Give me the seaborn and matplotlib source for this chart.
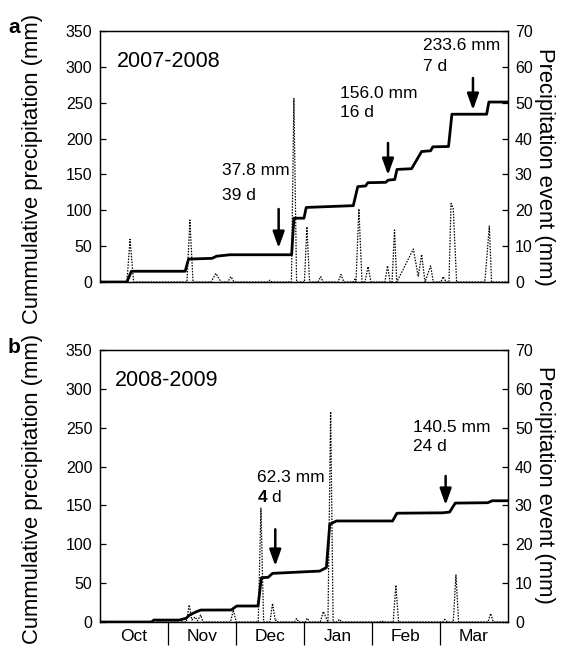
import matplotlib
matplotlib.use("Agg")
import matplotlib.pyplot as plt
import pandas as pd
import seaborn as sns

# ---------------- data ----------------
months = ["Oct", "Nov", "Dec", "Jan", "Feb", "Mar"]
season_a = "2007-2008"
season_b = "2008-2009"
x_max = 182  # days from 1 Oct to 31 Mar

# cumulative precipitation (mm), panel a
cum_a_day = [0, 12, 14, 38, 39.5, 50, 52, 58, 85.5, 86.5, 91, 92, 113, 115, 118.5,
             119.5, 127.5, 128.5, 131.5, 132.5, 139, 140.5, 143.5, 147.5, 148.5,
             155.5, 157, 172.5, 173.5, 182]
cum_a_mm = [0, 0, 15, 15, 32, 33, 36, 38, 38, 89, 89, 104, 106.5, 133, 134,
            138.5, 139, 142, 143, 157, 158, 166, 182, 183, 188.5,
            189, 234, 234, 251, 251]

# precipitation events (mm), panel a
evt_a_day = [0, 12, 13.4, 15, 38.8, 40.1, 41.5, 49.5, 51.7, 54, 57, 58.4, 59.8,
             75, 75.8, 76.7, 85.4, 86.5, 87.7, 91.2, 92.3, 93.5, 97.2, 98.5, 99.5,
             106.2, 107.5, 108.8, 112.9, 113.8, 114.2, 115.5, 116.9, 118.2, 119.6,
             120.9, 127.1, 128.3, 129.4, 130.3, 131.4, 132.4, 139.8, 142, 143.5,
             145, 147.5, 148.7, 152.1, 153.1, 154.4, 155.7, 156.6, 157.6, 159.1,
             171.7, 173.7, 174.7, 182]
evt_a_mm = [0, 0, 11.9, 0, 0, 17.3, 0, 0, 2.4, 0, 0, 1.5, 0,
            0, 0.5, 0, 0, 51.2, 0, 0, 15.4, 0, 0, 1.5, 0,
            0, 2.1, 0, 0, 0.8, 0, 20.4, 0, 0, 4.3,
            0, 0, 4.5, 0, 0, 14.5, 0, 9.2, 1.5, 7.7,
            0, 4.5, 0, 0, 1.5, 0, 0, 21.9, 20.5, 0,
            0, 15.6, 0, 0]

# cumulative precipitation (mm), panel b
cum_b_day = [0, 23, 24, 35.5, 38.5, 40, 43, 45, 58.5, 61, 70.5, 72, 75, 77, 94, 98,
             101, 102.5, 105.5, 130.5, 132.5, 153, 156, 158.5, 173, 175, 182]
cum_b_mm = [0, 0, 2.5, 2.5, 5, 9, 13.3, 15.4, 15.5, 20.6, 20.6, 57, 57.5, 62.6, 65,
            65.5, 70, 125.7, 130, 130, 140, 140.5, 141.5, 153, 153.5, 156, 156]

# precipitation events (mm), panel b
evt_b_day = [0, 23.5, 24.5, 25.5, 34.7, 35.7, 36.7, 38.5, 39.8, 41, 42.4, 43.5, 44.9,
             46, 58.2, 59.5, 60.8, 70.6, 71.8, 73, 75.8, 77, 78.2, 78.8, 79.5, 86.7,
             87.7, 88.7, 91.5, 92.5, 93.5, 98.3, 99.6, 101.7, 102.9, 104, 105.8,
             106.8, 107.8, 124.7, 125.7, 126.7, 130.8, 132, 133.2, 152.9, 153.9,
             154.9, 157.6, 158.8, 160, 173.1, 174.3, 175.5, 182]
evt_b_mm = [0, 0, 0.9, 0, 0, 0.9, 0, 0, 4.4, 0.5, 1.3, 0.3, 1.8,
            0, 0, 3.1, 0, 0, 29.3, 0, 0, 4.8, 0.3, 0.5, 0, 0,
            0.9, 0, 0, 1.0, 0, 0, 2.7, 0, 54.1, 0, 0,
            0.7, 0, 0, 0.3, 0, 0, 9.5, 0, 0, 0.7,
            0, 0, 12.1, 0, 0, 2.2, 0, 0]

notes_a = [("37.8 mm", "39 d"), ("156.0 mm", "16 d"), ("233.6 mm", "7 d")]
notes_b = [("62.3 mm", r"$\mathbf{4}$ d"), ("140.5 mm", "24 d")]

left_ticks = [0, 50, 100, 150, 200, 250, 300, 350]
right_ticks = [0, 10, 20, 30, 40, 50, 60, 70]

# ---------------- style ----------------
sns.set_theme(style="ticks")
plt.rcParams["font.family"] = ["Liberation Sans", "DejaVu Sans"]
plt.rcParams["mathtext.fontset"] = "custom"
plt.rcParams["mathtext.rm"] = "Liberation Sans"
plt.rcParams["mathtext.bf"] = "Liberation Sans:bold"
plt.rcParams["axes.linewidth"] = 0.9
for k in ("text.color", "axes.labelcolor", "xtick.color", "ytick.color",
          "axes.edgecolor"):
    plt.rcParams[k] = "black"

TICK_FS = 11.5
LAB_FS = 15.8
NOTE_FS = 12.5
SEASON_FS = 15.5

fig = plt.figure(figsize=(5.65, 6.48), dpi=100)
ax_a = fig.add_axes([0.177, 0.5648, 0.722, 0.3873])
ax_b = fig.add_axes([0.177, 0.0401, 0.722, 0.4198])


def draw_panel(ax, cd, cv, ed, ev):
    ax2 = ax.twinx()
    dfe = pd.DataFrame({"day": ed, "mm": ev})
    dfc = pd.DataFrame({"day": cd, "mm": cv})
    sns.lineplot(data=dfe, x="day", y="mm", ax=ax2, color="black", lw=0.9,
                 linestyle=(0, (1.2, 1.1)), estimator=None, sort=False)
    sns.lineplot(data=dfc, x="day", y="mm", ax=ax, color="black", lw=2.0,
                 estimator=None, sort=False)
    ax.set_xlim(0, x_max)
    ax.set_ylim(0, 350)
    ax2.set_ylim(0, 70)
    ax.set_yticks(left_ticks)
    ax2.set_yticks(right_ticks)
    ax.tick_params(axis="y", direction="in", length=4.5, width=0.9,
                   labelsize=TICK_FS, pad=5.5, colors="black")
    ax2.tick_params(axis="y", direction="in", length=4.5, width=0.9,
                    labelsize=TICK_FS, pad=5, colors="black")
    for a in (ax, ax2):
        for s in a.spines.values():
            s.set_visible(True)
            s.set_linewidth(0.9)
            s.set_color("black")
    ax.set_ylabel("Cummulative precipitation (mm)", fontsize=LAB_FS)
    ax2.set_ylabel("Precipitation event (mm)", fontsize=LAB_FS, rotation=270)
    ax.set_xlabel("")
    return ax2


ax2_a = draw_panel(ax_a, cum_a_day, cum_a_mm, evt_a_day, evt_a_mm)
ax2_b = draw_panel(ax_b, cum_b_day, cum_b_mm, evt_b_day, evt_b_mm)

ax_a.yaxis.set_label_coords(-0.14, 0.45)
ax2_a.yaxis.set_label_coords(1.115, 0.46)
ax_b.yaxis.set_label_coords(-0.14, 0.49)
ax2_b.yaxis.set_label_coords(1.115, 0.505)

# x axis: panel a none, panel b months with separators
ax_a.set_xticks([])
ax_a.tick_params(axis="x", length=0)
sep = [k * x_max / 6 for k in range(1, 6)]
centers = [(k + 0.5) * x_max / 6 for k in range(6)]
ax_b.set_xticks(sep)
ax_b.set_xticklabels([])
ax_b.tick_params(axis="x", which="major", direction="out", length=16.5, width=0.9,
                 colors="black")
ax_b.set_xticks(centers, minor=True)
ax_b.set_xticklabels(months, minor=True, fontsize=12.5)
ax_b.tick_params(axis="x", which="minor", length=0, pad=5)

# season labels
ax_a.text(0.042, 0.878, season_a, transform=ax_a.transAxes, fontsize=SEASON_FS,
          ha="left", va="center")
ax_b.text(0.037, 0.886, season_b, transform=ax_b.transAxes, fontsize=SEASON_FS,
          ha="left", va="center")

# annotation text (axes fraction positions: left x, baseline line 1, baseline line 2)
pos_a = [(0.299, 0.426, 0.327), (0.588, 0.733, 0.657), (0.792, 0.924, 0.841)]
for (l1, l2), (fx, fy1, fy2) in zip(notes_a, pos_a):
    ax_a.text(fx, fy1, l1, transform=ax_a.transAxes, fontsize=NOTE_FS,
              ha="left", va="baseline")
    ax_a.text(fx, fy2, l2, transform=ax_a.transAxes, fontsize=NOTE_FS,
              ha="left", va="baseline")
pos_b = [(0.384, 0.515, 0.441), (0.767, 0.699, 0.629)]
for (l1, l2), (fx, fy1, fy2) in zip(notes_b, pos_b):
    ax_b.text(fx, fy1, l1, transform=ax_b.transAxes, fontsize=NOTE_FS,
              ha="left", va="baseline")
    ax_b.text(fx, fy2, l2, transform=ax_b.transAxes, fontsize=NOTE_FS,
              ha="left", va="baseline")

# arrows (day, top, tip) in left-axis units
arrows_a = [(79.7, 101.8, 47.4), (128.5, 193.9, 149.2), (166.4, 284.5, 239.9)]
arrows_b = [(78.2, 119.3, 72.1), (154.2, 187.9, 150.6)]
aprops = dict(arrowstyle="-|>,head_length=0.7,head_width=0.25", color="black",
              lw=1.8, shrinkA=0, shrinkB=0, mutation_scale=14)
for ax, arrs in ((ax_a, arrows_a), (ax_b, arrows_b)):
    for d, top, tip in arrs:
        ax.annotate("", xy=(d, tip), xytext=(d, top), xycoords="data",
                    textcoords="data", arrowprops=aprops, zorder=5)

# panel letters
fig.text(0.014, 0.958, "a", fontsize=15, fontweight="bold", ha="left", va="center")
fig.text(0.014, 0.464, "b", fontsize=15, fontweight="bold", ha="left", va="center")

fig.savefig("out.png", dpi=100)
